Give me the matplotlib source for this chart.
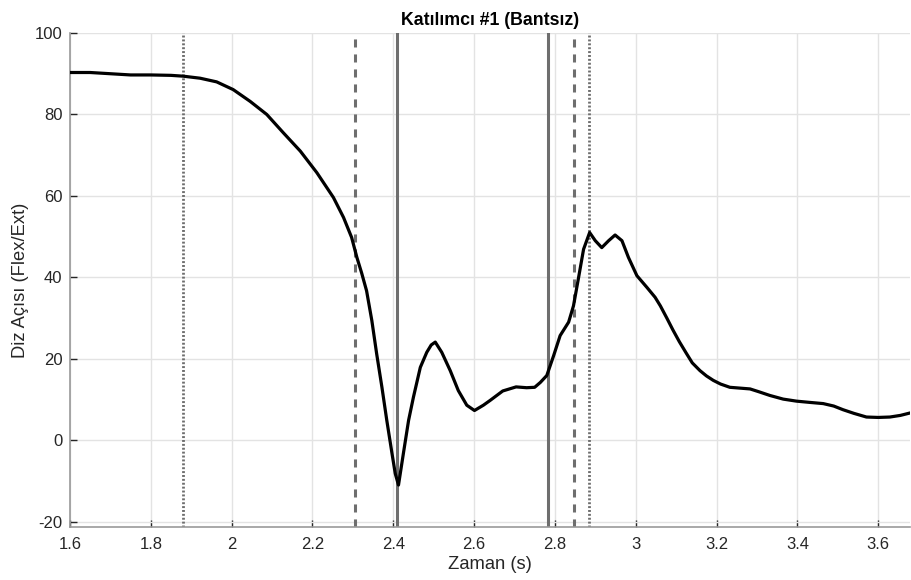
import matplotlib
matplotlib.use("Agg")
import matplotlib.pyplot as plt

plt.rcParams['font.family'] = ['Liberation Sans', 'DejaVu Sans']
plt.rcParams['lines.scale_dashes'] = False
plt.rcParams['axes.unicode_minus'] = False

# knee angle trace
zaman = [1.600, 1.650, 1.700, 1.750, 1.800, 1.850, 1.880, 1.922, 1.963, 2.004,
         2.046, 2.087, 2.128, 2.170, 2.211, 2.252, 2.277, 2.297, 2.310, 2.322,
         2.334, 2.347, 2.359, 2.372, 2.384, 2.397, 2.405, 2.413, 2.425, 2.438,
         2.450, 2.467, 2.483, 2.494, 2.504, 2.520, 2.541, 2.561, 2.582, 2.601,
         2.623, 2.640, 2.671, 2.704, 2.730, 2.750, 2.764, 2.780, 2.797, 2.813,
         2.834, 2.846, 2.858, 2.871, 2.886, 2.900, 2.916, 2.933, 2.949, 2.966,
         2.982, 3.003, 3.028, 3.048, 3.061, 3.077, 3.092, 3.108, 3.125, 3.140,
         3.159, 3.175, 3.192, 3.210, 3.233, 3.283, 3.305, 3.332, 3.365, 3.398,
         3.430, 3.464, 3.490, 3.513, 3.540, 3.571, 3.600, 3.629, 3.655, 3.679]
aci = [90.3, 90.3, 90.0, 89.7, 89.7, 89.6, 89.4, 88.9, 88.0, 86.1,
       83.2, 80.0, 75.5, 71.0, 65.7, 59.6, 54.7, 49.8, 44.9, 41.0,
       36.7, 29.4, 21.2, 13.0, 4.9, -3.3, -8.2, -11.0, -3.3, 4.9,
       10.6, 17.9, 21.6, 23.4, 24.1, 21.6, 17.1, 12.2, 8.6, 7.3,
       8.6, 9.8, 12.1, 13.1, 12.9, 13.0, 14.2, 15.9, 20.8, 25.7,
       29.0, 33.0, 39.6, 46.9, 51.0, 49.0, 47.3, 49.0, 50.4, 49.0,
       44.9, 40.4, 37.5, 35.1, 33.0, 30.0, 27.1, 24.2, 21.4, 19.0,
       17.1, 15.8, 14.7, 13.8, 13.0, 12.6, 11.9, 11.0, 10.1, 9.6,
       9.3, 9.0, 8.4, 7.5, 6.6, 5.7, 5.6, 5.7, 6.1, 6.7]

# event markers
noktali = [1.879, 2.884]
kesikli = [2.305, 2.848]
duz = [2.410, 2.782]

xticks = [1.6, 1.8, 2.0, 2.2, 2.4, 2.6, 2.8, 3.0, 3.2, 3.4, 3.6]
xticklabels = ['1.6', '1.8', '2', '2.2', '2.4', '2.6', '2.8', '3', '3.2', '3.4', '3.6']
yticks = [-20, 0, 20, 40, 60, 80, 100]

fig = plt.figure(figsize=(9.11, 5.8), dpi=100)
ax = fig.add_axes([0.0768, 0.0914, 0.9222, 0.8517])

gri = '#6e6e6e'
for x in noktali:
    ax.axvline(x, color=gri, lw=2.0, linestyle=(0, (1.4, 1.4)), zorder=2)
for x in kesikli:
    ax.axvline(x, color=gri, lw=2.2, linestyle=(0, (5.8, 5.0)), zorder=2)
for x in duz:
    ax.axvline(x, color=gri, lw=2.2, zorder=2)

ax.plot(zaman, aci, color='black', lw=2.3, solid_joinstyle='round',
        solid_capstyle='round', zorder=3)

ax.set_xlim(1.6, 3.679)
ax.set_ylim(-21.3, 100)
ax.set_xticks(xticks)
ax.set_xticklabels(xticklabels)
ax.set_yticks(yticks)

ax.grid(True, color='#e3e3e3', lw=1.0)
ax.set_axisbelow(True)
for s in ['top', 'right']:
    ax.spines[s].set_visible(False)
for s in ['left', 'bottom']:
    ax.spines[s].set_color('#999999')
    ax.spines[s].set_linewidth(1.2)
ax.tick_params(direction='in', length=5, width=1, color='#262626',
               labelsize=12, labelcolor='#262626')
ax.tick_params(axis='x', pad=7)
ax.tick_params(axis='y', pad=5.5)

ax.set_title('Katılımcı #1 (Bantsız)', fontsize=12.8, fontweight='bold', pad=6)
ax.set_xlabel('Zaman (s)', fontsize=13.2, color='#262626', labelpad=3)
ax.set_ylabel('Diz Açısı (Flex/Ext)', fontsize=13.2, color='#262626', labelpad=4)

fig.savefig('out.png', dpi=100)
